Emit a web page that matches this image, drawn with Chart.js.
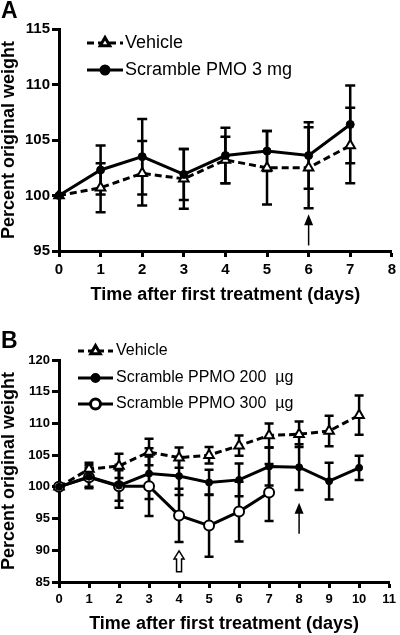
<!DOCTYPE html>
<html>
<head>
<meta charset="utf-8">
<script src="https://cdn.jsdelivr.net/npm/chart.js@4/dist/chart.umd.min.js"></script>
<style>
  html, body { margin:0; padding:0; background:#fff; }
  #wrap { position:relative; width:400px; height:635px; overflow:hidden; }
  canvas { position:absolute; left:0; }
  .lbl { position:absolute; font-family:"Liberation Sans", Arial, sans-serif; font-weight:bold; color:#000; }
</style>
</head>
<body>
<div id="wrap">
  <canvas id="cA" width="400" height="310" style="top:0"></canvas>
  <canvas id="cB" width="400" height="325" style="top:310px"></canvas>
  <div class="lbl" style="left:1px; top:-3px; font-size:23px;">A</div>
  <div class="lbl" style="left:1px; top:327px; font-size:23px;">B</div>
</div>
<script>
// ---------- Panel A data ----------
const daysA = [0, 1, 2, 3, 4, 5, 6, 7];
const vehicleA = [100, 100.7, 102.0, 101.5, 103.2, 102.5, 102.5, 104.5];
const vehicleAErr = [0, 2.2, 2.9, 2.7, 2.1, 3.3, 3.65, 3.4];
const scrambleA = [100, 102.3, 103.5, 101.9, 103.6, 104.0, 103.6, 106.4];
const scrambleAErr = [0, 2.2, 3.4, 2.3, 2.5, 1.8, 3.0, 3.5];
const legendA = ['Vehicle', 'Scramble PMO 3 mg'];

// ---------- Panel B data ----------
const daysB = [0, 1, 2, 3, 4, 5, 6, 7, 8, 9, 10];
const vehicleB = [100, 102.8, 103.3, 105.5, 104.6, 105.0, 106.5, 108.1, 108.3, 108.8, 111.3];
const vehicleBErr = [0, 1.0, 1.9, 2.1, 1.6, 1.3, 1.6, 1.9, 2.0, 2.4, 3.1];
const ppmo200 = [100, 101.6, 100.2, 102.1, 101.7, 100.7, 101.1, 103.2, 103.1, 100.9, 103.0];
const ppmo200Err = [0, 1.8, 2.4, 4.0, 3.0, 2.0, 2.6, 3.0, 3.6, 2.9, 1.9];
const daysB300 = [0, 1, 2, 3, 4, 5, 6, 7];
const ppmo300 = [100, 101.5, 100.1, 100.1, 95.5, 93.9, 96.1, 99.1];
const ppmo300Err = [0, 1.5, 3.4, 4.7, 4.2, 4.9, 4.7, 4.5];
const legendB = ['Vehicle', 'Scramble PPMO 200  \u00B5g', 'Scramble PPMO 300  \u00B5g'];

// arrows (x day, tail value, tip value)
const arrowsA = [{ x: 6, tail: 95.5, tip: 98.3, open: false }];
const arrowsB = [{ x: 8, tail: 92.6, tip: 97.5, open: false }, { x: 4, tail: 86.6, tip: 89.9, open: true }];

const FONT = '"Liberation Sans", Arial, sans-serif';

function pts(xs, ys) { return xs.map((x, i) => ({ x: x, y: ys[i] })); }

const errorBarPlugin = {
  id: 'errbars',
  beforeDatasetsDraw(chart, args, opts) {
    const ctx = chart.ctx, xs = chart.scales.x, ys = chart.scales.y;
    ctx.save();
    ctx.strokeStyle = '#000';
    ctx.lineWidth = opts.lw || 2.5;
    const cw = opts.cap || 10;
    chart.data.datasets.forEach(ds => {
      if (!ds.errors) return;
      ds.data.forEach((p, i) => {
        const e = ds.errors[i];
        if (!e) return;
        const px = xs.getPixelForValue(p.x);
        const yt = ys.getPixelForValue(p.y + e), yb = ys.getPixelForValue(p.y - e);
        ctx.beginPath();
        ctx.moveTo(px, yt); ctx.lineTo(px, yb);
        ctx.moveTo(px - cw / 2, yt); ctx.lineTo(px + cw / 2, yt);
        ctx.moveTo(px - cw / 2, yb); ctx.lineTo(px + cw / 2, yb);
        ctx.stroke();
      });
    });
    ctx.restore();
  }
};

const extrasPlugin = {
  id: 'extras',
  afterDraw(chart, args, opts) {
    const ctx = chart.ctx, xs = chart.scales.x, ys = chart.scales.y;
    ctx.save();
    // arrows
    (opts.arrows || []).forEach(a => {
      const px = xs.getPixelForValue(a.x);
      const yTail = ys.getPixelForValue(a.tail), yTip = ys.getPixelForValue(a.tip);
      if (!a.open) {
        ctx.strokeStyle = '#000'; ctx.fillStyle = '#000'; ctx.lineWidth = 1.5;
        ctx.beginPath(); ctx.moveTo(px, yTail); ctx.lineTo(px, yTip + 8); ctx.stroke();
        ctx.beginPath(); ctx.moveTo(px, yTip); ctx.lineTo(px - 4.5, yTip + 11); ctx.lineTo(px + 4.5, yTip + 11); ctx.closePath(); ctx.fill();
      } else {
        ctx.strokeStyle = '#000'; ctx.fillStyle = '#fff'; ctx.lineWidth = 1.5;
        const hw = 5, sw = 2.5, hh = 8;
        ctx.beginPath();
        ctx.moveTo(px, yTip);
        ctx.lineTo(px + hw, yTip + hh);
        ctx.lineTo(px + sw, yTip + hh);
        ctx.lineTo(px + sw, yTail);
        ctx.lineTo(px - sw, yTail);
        ctx.lineTo(px - sw, yTip + hh);
        ctx.lineTo(px - hw, yTip + hh);
        ctx.closePath(); ctx.fill(); ctx.stroke();
      }
    });
    // legend
    const L = opts.legend;
    if (L) {
      ctx.font = L.size + 'px ' + FONT;
      ctx.textBaseline = 'middle';
      ctx.textAlign = 'left';
      L.items.forEach((it, i) => {
        const y = L.ys[i];
        ctx.strokeStyle = '#000'; ctx.lineWidth = 3;
        ctx.setLineDash(it.dash || []);
        ctx.beginPath(); ctx.moveTo(L.x1, y); ctx.lineTo(L.x2, y); ctx.stroke();
        ctx.setLineDash([]);
        ctx.fillStyle = it.fill; ctx.strokeStyle = '#000';
        Chart.helpers.drawPoint(ctx, { pointStyle: it.style, radius: it.r, rotation: 0, borderWidth: it.bw }, (L.x1 + L.x2) / 2, y);
        ctx.fillStyle = '#000';
        ctx.fillText(it.text, L.tx, y);
      });
    }
    ctx.restore();
  }
};

function axisCfg(min, max, step, size, fitFn, title, tpad, titlePad, tl) {
  return {
    type: 'linear', min: min, max: max,
    afterFit: fitFn,
    ticks: { stepSize: step, font: { family: FONT, size: size, weight: 'bold' }, color: '#000', padding: tpad },
    grid: { display: true, drawOnChartArea: false, drawTicks: true, tickLength: tl, tickWidth: 3, tickColor: '#000' },
    border: { display: true, width: 3, color: '#000' },
    title: { display: true, text: title, color: '#000', font: { family: FONT, size: 18, weight: 'bold', lineHeight: 1 }, padding: titlePad }
  };
}

// ---------- Chart A ----------
new Chart(document.getElementById('cA'), {
  type: 'line',
  data: {
    datasets: [
      { label: legendA[1], data: pts(daysA, scrambleA), errors: scrambleAErr, borderColor: '#000', borderWidth: 3,
        pointStyle: 'circle', pointRadius: 4, pointBackgroundColor: '#000', pointBorderColor: '#000', pointBorderWidth: 1, clip: false, tension: 0 },
      { label: legendA[0], data: pts(daysA, vehicleA), errors: vehicleAErr, borderColor: '#000', borderWidth: 3, borderDash: [7, 4],
        pointStyle: 'triangle', pointRadius: 5.5, pointBackgroundColor: '#fff', pointBorderColor: '#000', pointBorderWidth: 2, clip: false, tension: 0 }
    ]
  },
  options: {
    responsive: false, animation: false, devicePixelRatio: 1,
    layout: { padding: { top: 29, right: 7, left: 0, bottom: 0 } },
    plugins: {
      legend: { display: false }, tooltip: { enabled: false },
      errbars: { lw: 2.5, cap: 10 },
      extras: {
        arrows: arrowsA,
        legend: { x1: 87, x2: 123, tx: 125, size: 18, ys: [43, 70], items: [
          { text: legendA[0], dash: [7, 4], style: 'triangle', r: 5.5, fill: '#fff', bw: 2 },
          { text: legendA[1], dash: [], style: 'circle', r: 4, fill: '#000', bw: 1 }
        ] }
      }
    },
    scales: {
      x: axisCfg(0, 8, 1, 15, s => { s.height = 59; }, 'Time after first treatment (days)', 4, { top: 0, bottom: 6 }, 6),
      y: axisCfg(95, 115, 5, 15, s => { s.width = 59; }, 'Percent original weight', 2, { top: 0, bottom: 0 }, 7)
    }
  },
  plugins: [errorBarPlugin, extrasPlugin]
});

// ---------- Chart B ----------
new Chart(document.getElementById('cB'), {
  type: 'line',
  data: {
    datasets: [
      { label: legendB[1], data: pts(daysB, ppmo200), errors: ppmo200Err, borderColor: '#000', borderWidth: 3,
        pointStyle: 'circle', pointRadius: 3.5, pointBackgroundColor: '#000', pointBorderColor: '#000', pointBorderWidth: 1, clip: false, tension: 0 },
      { label: legendB[2], data: pts(daysB300, ppmo300), errors: ppmo300Err, borderColor: '#000', borderWidth: 3,
        pointStyle: 'circle', pointRadius: 5, pointBackgroundColor: '#fff', pointBorderColor: '#000', pointBorderWidth: 2, clip: false, tension: 0 },
      { label: legendB[0], data: pts(daysB, vehicleB), errors: vehicleBErr, borderColor: '#000', borderWidth: 3, borderDash: [7, 4],
        pointStyle: 'triangle', pointRadius: 5.5, pointBackgroundColor: '#fff', pointBorderColor: '#000', pointBorderWidth: 2, clip: false, tension: 0 }
    ]
  },
  options: {
    responsive: false, animation: false, devicePixelRatio: 1,
    layout: { padding: { top: 50, right: 8, left: 0, bottom: 0 } },
    plugins: {
      legend: { display: false }, tooltip: { enabled: false },
      errbars: { lw: 2.5, cap: 9 },
      extras: {
        arrows: arrowsB,
        legend: { x1: 78, x2: 113, tx: 116, size: 16, ys: [41, 68, 94], items: [
          { text: legendB[0], dash: [6, 4], style: 'triangle', r: 5.5, fill: '#fff', bw: 2 },
          { text: legendB[1], dash: [], style: 'circle', r: 3.5, fill: '#000', bw: 1 },
          { text: legendB[2], dash: [], style: 'circle', r: 5, fill: '#fff', bw: 2 }
        ] }
      }
    },
    scales: {
      x: axisCfg(0, 11, 1, 13, s => { s.height = 53; }, 'Time after first treatment (days)', 4, { top: 0, bottom: 2 }, 6),
      y: axisCfg(85, 120, 5, 13, s => { s.width = 59; }, 'Percent original weight', 2, { top: 0, bottom: 0 }, 7)
    }
  },
  plugins: [errorBarPlugin, extrasPlugin]
});
</script>
</body>
</html>
